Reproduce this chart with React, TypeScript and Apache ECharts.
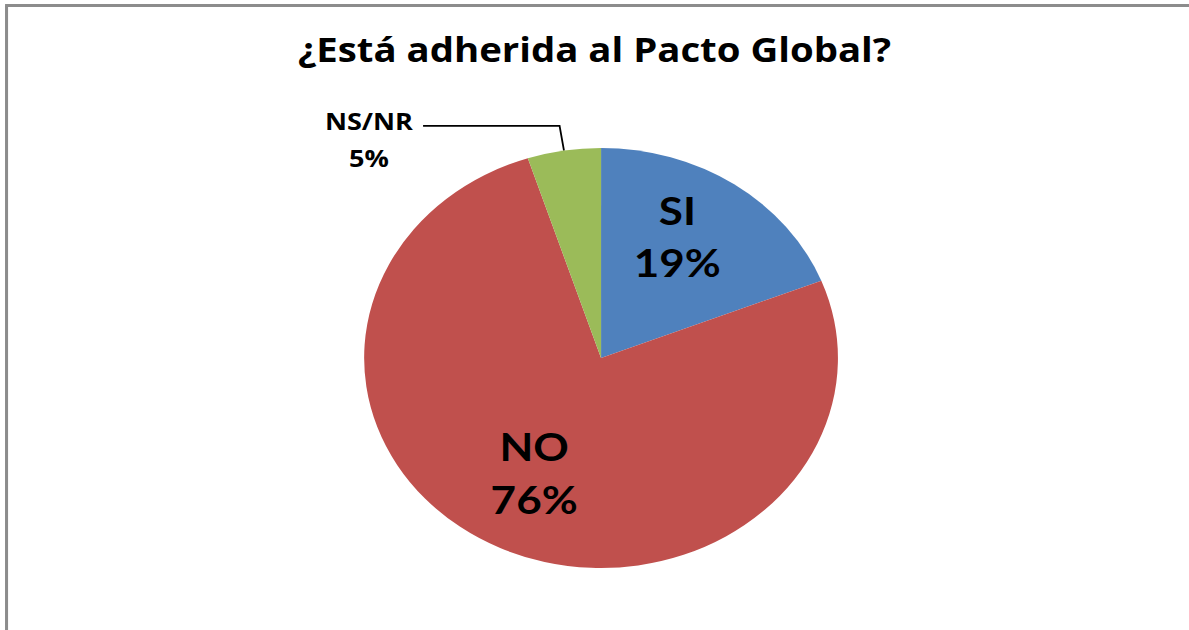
import React, { useEffect, useRef } from "react";
import * as echarts from "echarts";

const titleText = "¿Está adherida al Pacto Global?";
const categories = ["SI", "NO", "NS/NR"];
const values = [19, 76, 5];
const colors = ["#4F81BD", "#C0504D", "#9BBB59"];

const FONT = "Lato";
const TITLE_FONT = "Open Sans";
const SCALE_X = 1189 / 1054;
const INNER_W = 1054;
const H = 630;

export default function App() {
  const ref = useRef<HTMLDivElement>(null);

  useEffect(() => {
    if (!ref.current) return;
    const chart = echarts.init(ref.current, undefined, { renderer: "svg" });

    const mainData = categories.map((name, i) => {
      const isSmall = name === "NS/NR";
      return {
        name,
        value: values[i],
        itemStyle: { color: colors[i] },
        label: isSmall
          ? {
              show: true,
              position: "outside",
              formatter: "{a|{b}}\n{a|{c}%}",
              padding: [27, 0, 0, 0],
              rich: {
                a: {
                  width: 86,
                  align: "center",
                  fontFamily: TITLE_FONT,
                  fontWeight: "bold",
                  fontSize: 24,
                  lineHeight: 37,
                  color: "#000",
                },
              },
            }
          : { show: false },
        labelLine: isSmall
          ? { show: true, length: 25, length2: 121, lineStyle: { color: "#000", width: 1.6 } }
          : { show: false },
      };
    });

    const overlayData = categories.map((name, i) => ({
      name,
      value: values[i],
      label: { show: name !== "NS/NR" },
    }));

    const labelShift: Record<string, [number, number]> = {
      SI: [-8, -12],
      NO: [-3, -6],
    };

    chart.setOption({
      animation: false,
      backgroundColor: "#ffffff",
      title: {
        text: titleText,
        left: "center",
        top: 27,
        textStyle: {
          fontFamily: TITLE_FONT,
          fontWeight: "bold",
          fontSize: 34,
          color: "#000",
        },
      },
      graphic: [
        {
          type: "line",
          shape: { x1: 5.8, y1: 5.5, x2: 5.8, y2: H },
          style: { stroke: "#8c8c8c", lineWidth: 2.7 },
        },
        {
          type: "line",
          shape: { x1: 4.5, y1: 5.5, x2: INNER_W, y2: 5.5 },
          style: { stroke: "#8c8c8c", lineWidth: 3 },
        },
      ],
      series: [
        {
          type: "pie",
          center: [532.8, 358],
          radius: [0, 210],
          startAngle: 90,
          clockwise: true,
          avoidLabelOverlap: false,
          itemStyle: { borderWidth: 0 },
          label: { show: false },
          emphasis: { disabled: true },
          data: mainData,
        },
        {
          type: "pie",
          center: [532.8, 358],
          radius: [50, 210],
          startAngle: 90,
          clockwise: true,
          silent: true,
          itemStyle: { color: "transparent", borderWidth: 0 },
          label: {
            show: true,
            position: "inside",
            formatter: "{b}\n{c}%",
            fontFamily: FONT,
            fontWeight: "bold",
            fontSize: 39,
            lineHeight: 53,
            color: "#000",
          },
          labelLayout: (params: any) => {
            const s = labelShift[categories[params.dataIndex]];
            return s ? { dx: s[0] / SCALE_X, dy: s[1] } : {};
          },
          labelLine: { show: false },
          emphasis: { disabled: true },
          data: overlayData,
        },
      ],
    });

    return () => chart.dispose();
  }, []);

  return (
    <div
      style={{
        position: "absolute",
        left: 0,
        top: 0,
        width: 1189,
        height: H,
        overflow: "hidden",
        background: "#fff",
      }}
    >
      <div
        ref={ref}
        style={{
          width: INNER_W,
          height: H,
          transform: `scaleX(${SCALE_X})`,
          transformOrigin: "0 0",
        }}
      />
    </div>
  );
}
